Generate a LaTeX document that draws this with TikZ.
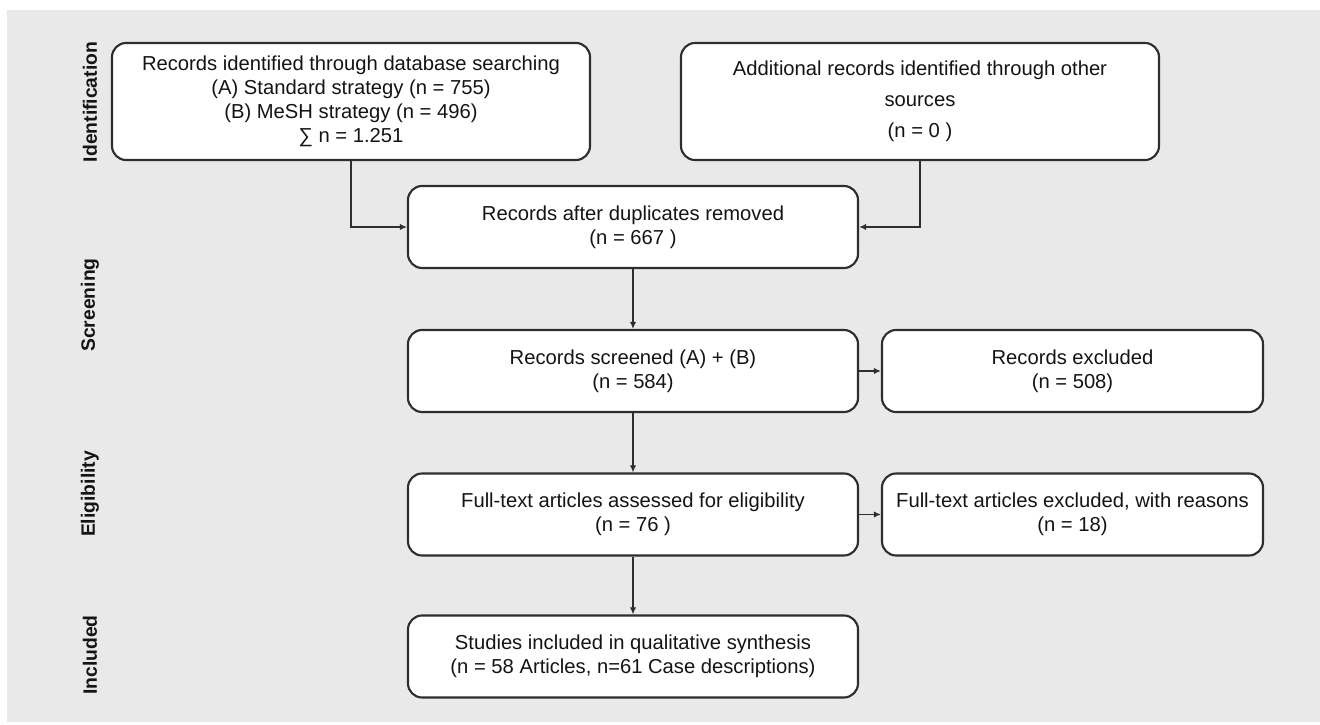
\documentclass[tikz,border=0pt]{standalone}
\usepackage{fontspec}
\setmainfont{Liberation Sans}
\usepackage{xcolor}
\usepackage{tikz}
\usetikzlibrary{arrows.meta, positioning}

\definecolor{bggray}{HTML}{E9E9E9}
\definecolor{edgegray}{HTML}{2E2E2E}
\definecolor{txtgray}{HTML}{141414}

\begin{document}
\begin{tikzpicture}[
  font=\fontsize{11.5}{13.6}\selectfont,
  text=txtgray,
  idbox/.style={draw=edgegray, line width=1.2pt, rounded corners=8pt, fill=white,
                minimum width=9.56cm, minimum height=2.34cm, align=center, inner sep=2pt},
  flowbox/.style={draw=edgegray, line width=1.2pt, rounded corners=8pt, fill=white,
                  minimum width=9.0cm, minimum height=1.64cm, align=center, inner sep=2pt},
  exclbox/.style={draw=edgegray, line width=1.2pt, rounded corners=8pt, fill=white,
                  minimum width=7.62cm, minimum height=1.64cm, align=center, inner sep=2pt},
  phase/.style={rotate=90, font=\fontsize{11}{13}\selectfont\bfseries},
  arrow/.style={-{Latex[length=4pt, width=3.6pt]}, line width=0.9pt, draw=edgegray},
]

%% ── Canvas ────────────────────────────────────────────────────────────────
\useasboundingbox (0,0) rectangle (26.4,-14.5);
\fill[bggray] (0.14,-0.2) rectangle (26.4,-14.44);

%% ── Phase labels (left margin) ────────────────────────────────────────────
\node[phase] (lident)  at (1.8, -2.04)  {Identification};
\node[phase] (lscreen) at (1.8, -6.1)   {Screening};
\node[phase] (lelig)   at (1.8, -9.88)  {Eligibility};
\node[phase] (lincl)   at (1.8, -13.1)  {Included};

%% ── Identification ────────────────────────────────────────────────────────
\node[idbox] (dbsearch) at (7.02, -2.03) {%
  Records identified through  database searching\\
  (A) Standard  strategy (n = 755)\\
  (B) MeSH  strategy (n = 496)\\
  ∑ n = 1.251};
\node[idbox] (othersrc) at (18.4, -2.03) {%
  Additional  records identified through  other\\[4pt]
  sources\\[4pt]
  (n = 0 )};

%% ── Screening ─────────────────────────────────────────────────────────────
\node[flowbox] (dedup)    at (12.66, -4.54) {Records after duplicates  removed\\(n = 667 )};
\node[flowbox] (screened) at (12.66, -7.42) {Records screened (A) + (B)\\(n = 584)};
\node[exclbox] (recexcl)  at (21.45, -7.42) {Records excluded\\(n = 508)};

%% ── Eligibility ───────────────────────────────────────────────────────────
\node[flowbox] (fulltext) at (12.66, -10.29) {Full-text  articles assessed for eligibility\\(n = 76 )};
\node[exclbox] (ftexcl)   at (21.45, -10.29) {Full-text  articles excluded,  with reasons\\(n = 18)};

%% ── Included ──────────────────────────────────────────────────────────────
\node[flowbox] (included) at (12.66, -13.13) {Studies included  in qualitative synthesis\\(n = 58 Articles, n=61  Case descriptions)};

%% ── Arrows ────────────────────────────────────────────────────────────────
\draw[arrow] (dbsearch.south) |- (dedup.west);
\draw[arrow] (othersrc.south) |- (dedup.east);
\draw[arrow] (dedup)    -- (screened);
\draw[arrow] (screened) -- (recexcl);
\draw[arrow] (screened) -- (fulltext);
\draw[arrow] (fulltext) -- (ftexcl);
\draw[arrow] (fulltext) -- (included);

\end{tikzpicture}
\end{document}
